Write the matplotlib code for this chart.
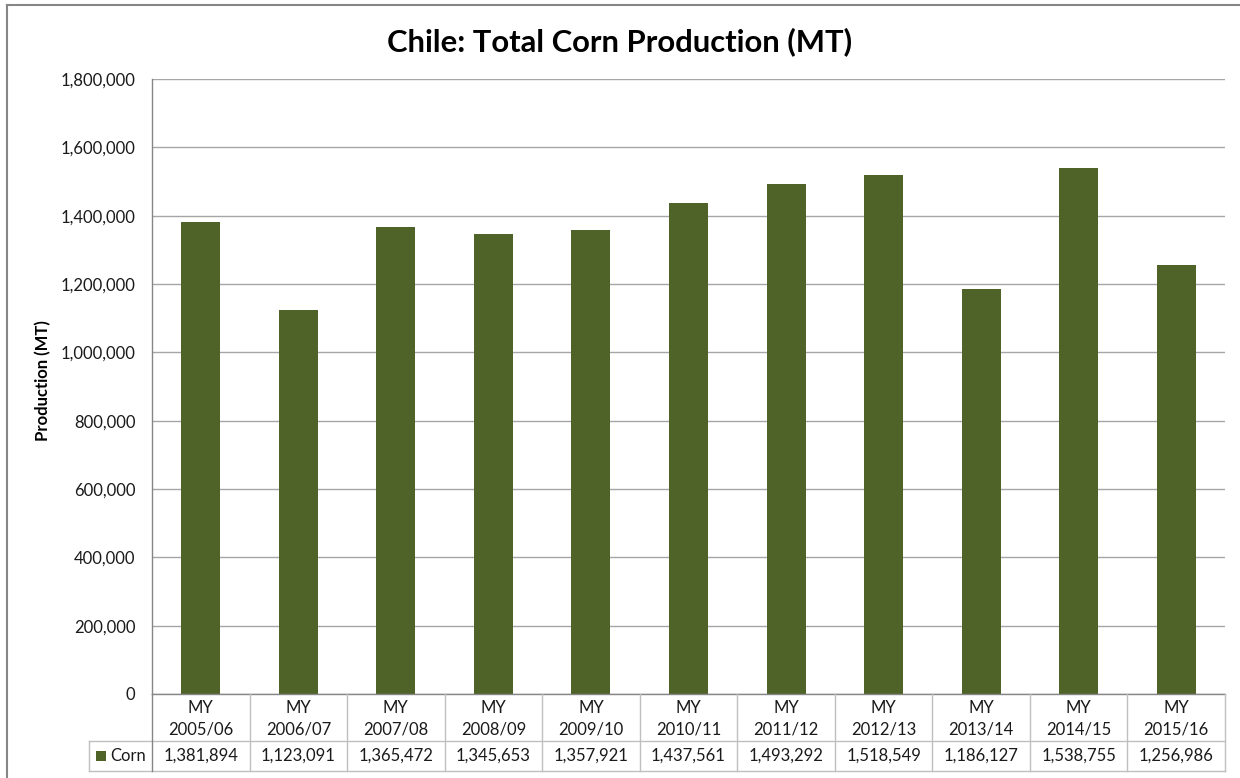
import matplotlib
matplotlib.use("Agg")
import matplotlib.pyplot as plt
from matplotlib.patches import Rectangle
from matplotlib.lines import Line2D
from matplotlib.ticker import FuncFormatter, MultipleLocator

plt.rcParams['font.family'] = ['Lato', 'DejaVu Sans']

years = ["2005/06", "2006/07", "2007/08", "2008/09", "2009/10", "2010/11",
         "2011/12", "2012/13", "2013/14", "2014/15", "2015/16"]
categories = ["MY\n" + y for y in years]
corn = [1381894, 1123091, 1365472, 1345653, 1357921, 1437561,
        1493292, 1518549, 1186127, 1538755, 1256986]
series_name = "Corn"

W, H = 1240, 778
fig = plt.figure(figsize=(W / 100, H / 100), dpi=100)
fig.patch.set_facecolor("white")

def fx(px):
    return px / W

def fy(py):
    return 1 - py / H

# plot area in pixel units
left, right, top, bottom = 152, 1225, 79, 694
ax = fig.add_axes([fx(left), fy(bottom), fx(right - left), (bottom - top) / H])

bar_color = "#4F6228"
text_col = "#1a1a1a"
fs = 12
n = len(corn)
xs = list(range(n))
ax.bar(xs, corn, width=0.4, color=bar_color, zorder=3)

ax.set_xlim(-0.5, n - 0.5)
ax.set_ylim(0, 1800000)
ax.yaxis.set_major_locator(MultipleLocator(200000))
ax.yaxis.set_major_formatter(FuncFormatter(lambda v, p: f"{int(v):,}"))
ax.grid(axis="y", color="#A6A6A6", linewidth=1.0, zorder=0)
ax.set_axisbelow(True)
for s in ("top", "right", "bottom"):
    ax.spines[s].set_visible(False)
ax.spines["left"].set_color("#868686")
ax.spines["left"].set_linewidth(1.0)
ax.tick_params(axis="y", length=0, pad=12, labelsize=fs, labelcolor=text_col)
ax.tick_params(axis="x", length=0, labelbottom=False)

ax.set_ylabel("Production (MT)", fontsize=12, fontweight="bold")
ax.yaxis.set_label_coords((51 - left) / (right - left), 0.51)

fig.text(0.5, fy(42), "Chile: Total Corn Production (MT)", ha="center",
         va="center", fontsize=22.3, fontweight="bold", color="black")

# data table beneath the plot area
row1_top, row1_bot, row2_bot = 694, 741, 771
legend_left = 89
line_col = "#BFBFBF"

def hline(x0, x1, py, color=line_col):
    fig.add_artist(Line2D([fx(x0), fx(x1)], [fy(py), fy(py)],
                          color=color, linewidth=1.0))

def vline(px, y0, y1, color=line_col):
    fig.add_artist(Line2D([fx(px), fx(px)], [fy(y0), fy(y1)],
                          color=color, linewidth=1.0))

hline(left, right, row1_top, "#868686")
hline(legend_left, right, row1_bot)
hline(legend_left, right, row2_bot)
vline(legend_left, row1_bot, row2_bot)
cat_w = (right - left) / n
for i in range(n + 1):
    px = left + i * cat_w
    vline(px, row1_top, row2_bot, "#868686" if i == 0 else line_col)

for i, (c, v) in enumerate(zip(categories, corn)):
    cx = left + (i + 0.5) * cat_w
    fig.text(fx(cx), fy(718.5), c, ha="center",
             va="center", fontsize=fs, linespacing=1.45, color=text_col)
    fig.text(fx(cx), fy((row1_bot + row2_bot) / 2), f"{v:,}", ha="center",
             va="center", fontsize=fs, color=text_col)

# legend key inside the table
ky = (row1_bot + row2_bot) / 2
fig.add_artist(Rectangle((fx(96), fy(ky + 5)), fx(10), 10 / H,
                         facecolor=bar_color, edgecolor="none"))
fig.text(fx(110), fy(ky), series_name, ha="left", va="center",
         fontsize=fs, color=text_col)

# outer chart border
fig.add_artist(Line2D([fx(6.5), fx(6.5)], [fy(4.5), 0], color="#868686", linewidth=1.5))
fig.add_artist(Line2D([fx(6.5), 1], [fy(4.5), fy(4.5)], color="#868686", linewidth=1.5))

fig.savefig("out.png", dpi=100, facecolor="white")
